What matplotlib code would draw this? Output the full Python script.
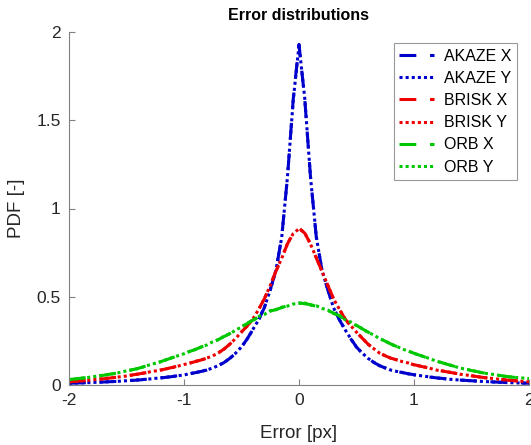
import numpy as np
import matplotlib
matplotlib.use('Agg')
from matplotlib import pyplot as plt

plt.rcParams['font.family'] = ['Liberation Sans', 'DejaVu Sans']

# 오차 값 (px)
err = [-2.0, -1.9, -1.8, -1.7, -1.6, -1.5, -1.4, -1.3, -1.2, -1.1,
       -1.0, -0.95, -0.9, -0.85, -0.8, -0.75, -0.7, -0.65, -0.6, -0.55,
       -0.5, -0.45, -0.4, -0.35, -0.3, -0.25, -0.2, -0.15, -0.1, -0.05,
       0.0,
       0.05, 0.1, 0.15, 0.2, 0.25, 0.3, 0.35, 0.4, 0.45, 0.5,
       0.55, 0.6, 0.65, 0.7, 0.75, 0.8, 0.85, 0.9, 0.95, 1.0,
       1.1, 1.2, 1.3, 1.4, 1.5, 1.6, 1.7, 1.8, 1.9, 2.0]

# AKAZE PDF
akaze_x = [0.010, 0.012, 0.014, 0.017, 0.020, 0.024, 0.028, 0.034, 0.040, 0.048,
           0.058, 0.064, 0.070, 0.077, 0.085, 0.096, 0.110, 0.128, 0.152, 0.180,
           0.215, 0.262, 0.315, 0.370, 0.440, 0.540, 0.650, 0.840, 1.180, 1.620,
           1.930,
           1.620, 1.180, 0.840, 0.650, 0.540, 0.440, 0.370, 0.315, 0.262, 0.215,
           0.180, 0.152, 0.128, 0.110, 0.096, 0.085, 0.077, 0.070, 0.064, 0.058,
           0.048, 0.040, 0.034, 0.028, 0.024, 0.020, 0.017, 0.014, 0.012, 0.010]
akaze_y = [0.010, 0.012, 0.014, 0.017, 0.020, 0.024, 0.029, 0.034, 0.041, 0.048,
           0.057, 0.064, 0.071, 0.077, 0.086, 0.096, 0.111, 0.128, 0.151, 0.181,
           0.216, 0.261, 0.316, 0.371, 0.442, 0.538, 0.652, 0.838, 1.182, 1.615,
           1.925,
           1.625, 1.178, 0.842, 0.648, 0.542, 0.438, 0.372, 0.314, 0.263, 0.214,
           0.181, 0.151, 0.129, 0.109, 0.097, 0.084, 0.077, 0.071, 0.063, 0.058,
           0.049, 0.040, 0.033, 0.028, 0.024, 0.020, 0.017, 0.014, 0.012, 0.010]

# BRISK PDF
brisk_x = [0.018, 0.023, 0.029, 0.035, 0.043, 0.052, 0.062, 0.073, 0.085, 0.100,
           0.115, 0.124, 0.133, 0.142, 0.152, 0.165, 0.182, 0.205, 0.232, 0.265,
           0.300, 0.335, 0.375, 0.430, 0.490, 0.565, 0.645, 0.720, 0.800, 0.860,
           0.890,
           0.860, 0.800, 0.720, 0.645, 0.565, 0.490, 0.430, 0.375, 0.335, 0.300,
           0.265, 0.232, 0.205, 0.182, 0.165, 0.152, 0.142, 0.133, 0.124, 0.115,
           0.100, 0.085, 0.073, 0.062, 0.052, 0.043, 0.035, 0.029, 0.023, 0.018]
brisk_y = [0.018, 0.023, 0.029, 0.036, 0.043, 0.051, 0.062, 0.074, 0.085, 0.099,
           0.116, 0.124, 0.134, 0.142, 0.153, 0.165, 0.183, 0.204, 0.233, 0.264,
           0.301, 0.334, 0.376, 0.429, 0.491, 0.563, 0.647, 0.718, 0.802, 0.858,
           0.885,
           0.862, 0.798, 0.722, 0.643, 0.567, 0.488, 0.431, 0.374, 0.336, 0.299,
           0.266, 0.231, 0.206, 0.181, 0.166, 0.151, 0.143, 0.132, 0.125, 0.114,
           0.101, 0.084, 0.074, 0.061, 0.053, 0.042, 0.036, 0.028, 0.023, 0.018]

# ORB PDF
orb_x = [0.031, 0.038, 0.046, 0.055, 0.066, 0.079, 0.094, 0.113, 0.133, 0.155,
         0.178, 0.190, 0.202, 0.215, 0.228, 0.243, 0.258, 0.275, 0.292, 0.310,
         0.330, 0.348, 0.368, 0.385, 0.402, 0.418, 0.428, 0.438, 0.450, 0.455,
         0.466,
         0.460, 0.456, 0.445, 0.438, 0.422, 0.408, 0.392, 0.372, 0.355, 0.338,
         0.318, 0.300, 0.282, 0.264, 0.248, 0.232, 0.218, 0.204, 0.192, 0.180,
         0.157, 0.135, 0.115, 0.097, 0.082, 0.069, 0.058, 0.049, 0.041, 0.036]
orb_y = [0.030, 0.037, 0.046, 0.056, 0.065, 0.080, 0.093, 0.114, 0.132, 0.156,
         0.177, 0.191, 0.201, 0.216, 0.227, 0.245, 0.257, 0.277, 0.290, 0.312,
         0.328, 0.351, 0.366, 0.388, 0.400, 0.421, 0.426, 0.441, 0.447, 0.459,
         0.462,
         0.465, 0.452, 0.449, 0.434, 0.425, 0.405, 0.395, 0.370, 0.357, 0.336,
         0.320, 0.298, 0.284, 0.262, 0.250, 0.230, 0.219, 0.203, 0.193, 0.179,
         0.158, 0.134, 0.116, 0.096, 0.083, 0.068, 0.059, 0.048, 0.042, 0.037]

series = [
    ('AKAZE X', akaze_x, '#0000cc', 'dashed'),
    ('AKAZE Y', akaze_y, '#0000cc', 'dotted'),
    ('BRISK X', brisk_x, '#ee0000', 'dashed'),
    ('BRISK Y', brisk_y, '#ee0000', 'dotted'),
    ('ORB X', orb_x, '#00c800', 'dashed'),
    ('ORB Y', orb_y, '#00c800', 'dotted'),
]

fig = plt.figure(figsize=(5.31, 4.45), dpi=100)
ax = fig.add_axes([69 / 531, 1 - 385 / 445, 460 / 531, 353 / 445])

for name, vals, color, style in series:
    ls = (0, (5.5, 4.5)) if style == 'dashed' else (0, (1, 1))
    ax.plot(err, vals, color=color, linestyle=ls, linewidth=2.2, label=name)

ax.set_xlim(-2, 2)
ax.set_ylim(0, 2)
ax.set_xticks([-2, -1, 0, 1, 2])
ax.set_xticklabels(['-2', '-1', '0', '1', '2'])
ax.set_yticks([0, 0.5, 1, 1.5, 2])
ax.set_yticklabels(['0', '0.5', '1', '1.5', '2'])

# MATLAB 스타일 축
for side in ['top', 'right']:
    ax.spines[side].set_visible(False)
for side in ['left', 'bottom']:
    ax.spines[side].set_color('#808080')
    ax.spines[side].set_linewidth(0.8)
ax.tick_params(direction='in', length=4, width=0.8, color='#808080',
               labelcolor='#262626', labelsize=12.5, pad=6)

ax.set_xlabel('Error [px]', fontsize=13.5, color='#262626', labelpad=12)
ax.set_ylabel('PDF [-]', fontsize=13.5, color='#262626', labelpad=8)
ax.set_title('Error distributions', fontsize=11.5, fontweight='bold', pad=9)

leg = ax.legend(loc='upper right', bbox_to_anchor=(517 / 531, 1 - 43 / 445),
                bbox_transform=fig.transFigure, borderaxespad=0, fontsize=11.5,
                frameon=True, fancybox=False, handlelength=2.2, handletextpad=0.6,
                labelspacing=0.45, borderpad=0.35)
leg.get_frame().set_edgecolor('#808080')
leg.get_frame().set_linewidth(0.8)

fig.savefig('out.png', dpi=100)
